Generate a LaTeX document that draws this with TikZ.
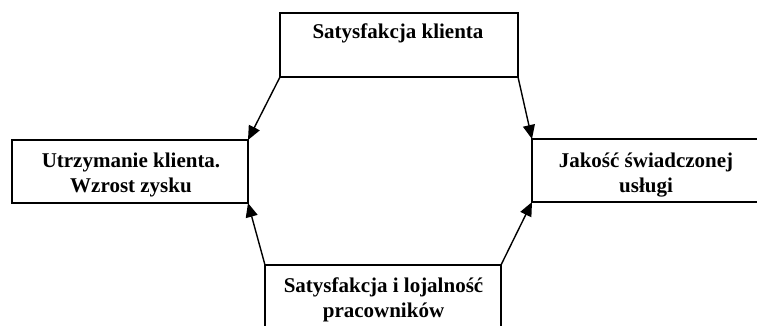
\documentclass[tikz,border=0pt]{standalone}
\usepackage{fontspec}
\setmainfont{Liberation Serif}
\usetikzlibrary{arrows.meta}
\begin{document}
\begin{tikzpicture}[x=1pt,y=-1pt,
  box/.style={draw, line width=1.4pt, rectangle, inner sep=0pt, outer sep=0pt},
  lbl/.style={font=\bfseries\fontsize{21}{25}\selectfont, align=center, inner sep=0pt, anchor=base},
  arr/.style={line width=1.4pt, -{Triangle[length=14pt,width=12pt]}}]
\useasboundingbox (0,0) rectangle (757,325);
\clip (0,0) rectangle (757,325);
\node[box, minimum width=238pt, minimum height=64pt] (top) at (399,45) {};
\node[box, minimum width=236pt, minimum height=63pt] (left) at (130,171.5) {};
\node[box, minimum width=240pt, minimum height=63pt] (right) at (652,170.5) {};
\node[box, minimum width=236pt, minimum height=75pt] (bottom) at (383,302.5) {};
\node[lbl] (ttop) at (398,38) {Satysfakcja klienta};
\node[lbl] (tleft) at (131,192) {Utrzymanie klienta.\\Wzrost zysku};
\node[lbl] (tright) at (646,192) {Jakość świadczonej\\usługi};
\node[lbl] (tbottom) at (383.5,317) {Satysfakcja i lojalność\\pracowników};
\draw[arr] (top.south west) -- (left.north east);
\draw[arr] (top.south east) -- (right.north west);
\draw[arr] (bottom.north west) -- (left.south east);
\draw[arr] (bottom.north east) -- (right.south west);
\end{tikzpicture}
\end{document}
